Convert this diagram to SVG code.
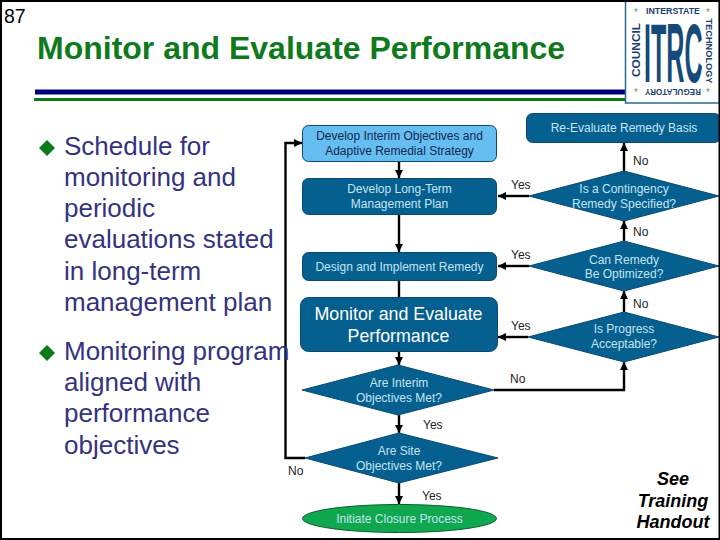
<svg xmlns="http://www.w3.org/2000/svg" width="720" height="540" viewBox="0 0 720 540">
<style>
text{font-family:"Liberation Sans",Arial,sans-serif}
.b{font-size:26px;fill:#333380}
.box{fill:#05608f;stroke:#0a4a70;stroke-width:1}
.lt{font-size:12px;fill:#c4e4f4;text-anchor:middle}
.dk{font-size:12px;fill:#0f2a50;text-anchor:middle}
.l{font-size:12px;fill:#222}
.c{stroke:#000;stroke-width:2.4;fill:none}
.d{fill:#0a7a1a}
.logo{font-weight:bold;fill:#1c3f6f;font-size:9px;text-anchor:middle}
.s{fill:#5aa060;font-size:10px;text-anchor:middle}
</style>
<defs>
<marker id="a" markerUnits="userSpaceOnUse" markerWidth="10" markerHeight="10" refX="9" refY="5" orient="auto"><path d="M1 1 9 5 1 9z" fill="#000"/></marker>
</defs>
<rect width="720" height="540" fill="#fff"/>
<text x="4" y="23" font-size="19.5" fill="#000">87</text>
<text x="37" y="59" font-size="32" font-weight="bold" fill="#0f7a1c">Monitor and Evaluate Performance</text>
<path d="M35 89.500H627V94.500H35z" fill="#00007f"/>
<rect x="34" y="98" width="593" height="3" fill="#0f7a1c"/>
<g id="connectors">
<path class="c" marker-end="url(#a)" d="M305 458H285.500V143H302"/>
<path class="c" marker-end="url(#a)" d="M399 162V178"/>
<path class="c" marker-end="url(#a)" d="M399 215V252"/>
<path class="c" d="M399 281V297"/>
<path class="c" marker-end="url(#a)" d="M399 352V365"/>
<path class="c" marker-end="url(#a)" d="M399 415V433"/>
<path class="c" marker-end="url(#a)" d="M399 483V504"/>
<path class="c" marker-end="url(#a)" d="M529 196H498"/>
<path class="c" marker-end="url(#a)" d="M529 266H498"/>
<path class="c" marker-end="url(#a)" d="M528 337H498"/>
<path class="c" marker-end="url(#a)" d="M494 390H624V362"/>
<path class="c" marker-end="url(#a)" d="M624 312V291"/>
<path class="c" marker-end="url(#a)" d="M624 241V221"/>
<path class="c" marker-end="url(#a)" d="M624 171V143"/>
</g>
<g id="bullets">
<path class="d" d="M47 140 55 148 47 156 39 148z"/>
<path class="d" d="M47 345 55 353 47 361 39 353z"/>
<text class="b" x="64" y="155">Schedule for</text>
<text class="b" x="64" y="186">monitoring and</text>
<text class="b" x="64" y="217">periodic</text>
<text class="b" x="64" y="248">evaluations stated</text>
<text class="b" x="64" y="280">in long-term</text>
<text class="b" x="64" y="311">management plan</text>
<text class="b" x="64" y="360">Monitoring program</text>
<text class="b" x="64" y="391">aligned with</text>
<text class="b" x="64" y="422">performance</text>
<text class="b" x="64" y="454">objectives</text>
</g>
<g id="n1"><rect x="302.500" y="125.500" width="194" height="36" rx="6" fill="#66bdf0" stroke="#0a4a70"/><text class="dk" x="399.500" y="140">Develop Interim Objectives and</text><text class="dk" x="399.500" y="154.500">Adaptive Remedial Strategy</text></g>
<g id="n2"><rect class="box" x="302.500" y="178.500" width="194" height="36" rx="6"/><text class="lt" x="399.500" y="193">Develop Long-Term</text><text class="lt" x="399.500" y="207.500">Management Plan</text></g>
<g id="n3"><rect class="box" x="302.500" y="252.500" width="194" height="28" rx="6"/><text class="lt" x="399.500" y="270.500">Design and Implement Remedy</text></g>
<g id="n4"><rect class="box" x="300.500" y="297.500" width="197" height="54" rx="8"/><text x="398.500" y="320" font-size="17.800" fill="#fff" text-anchor="middle">Monitor and Evaluate</text><text x="398.500" y="342" font-size="17.800" fill="#fff" text-anchor="middle">Performance</text></g>
<g id="n5"><path class="box" d="M302 390 398 365 494 390 398 415z"/><text class="lt" x="399" y="387">Are Interim</text><text class="lt" x="399" y="402">Objectives Met?</text></g>
<g id="n6"><path class="box" d="M305 458 399 433 498 458 399 483z"/><text class="lt" x="399" y="455">Are Site</text><text class="lt" x="399" y="469.500">Objectives Met?</text></g>
<g id="n7"><ellipse cx="399.500" cy="518.500" rx="97" ry="14" fill="#0fa84f" stroke="#086030"/><text class="lt" x="399.500" y="522.500">Initiate Closure Process</text></g>
<g id="n8"><rect class="box" x="526.500" y="113.500" width="194" height="29" rx="6"/><text class="lt" x="624" y="132">Re-Evaluate Remedy Basis</text></g>
<g id="n9"><path class="box" d="M529 196 624 171 719 196 624 221z"/><text class="lt" x="624" y="193">Is a Contingency</text><text class="lt" x="624" y="207.500">Remedy Specified?</text></g>
<g id="n10"><path class="box" d="M529 266 624 241 719 266 624 291z"/><text class="lt" x="624" y="264">Can Remedy</text><text class="lt" x="624" y="278">Be Optimized?</text></g>
<g id="n11"><path class="box" d="M528 337 624 312 719 337 624 362z"/><text class="lt" x="624" y="333">Is Progress</text><text class="lt" x="624" y="347.500">Acceptable?</text></g>
<g id="labels">
<text class="l" x="511" y="189">Yes</text><text class="l" x="511" y="258.500">Yes</text><text class="l" x="511" y="330">Yes</text>
<text class="l" x="633" y="164.500">No</text><text class="l" x="633" y="236">No</text><text class="l" x="633" y="308">No</text>
<text class="l" x="510" y="383">No</text><text class="l" x="423" y="429">Yes</text><text class="l" x="288" y="475">No</text><text class="l" x="422" y="500">Yes</text>
</g>
<g id="see" font-size="18" font-weight="bold" font-style="italic" fill="#000" text-anchor="middle">
<text x="673" y="485">See</text><text x="673" y="507">Training</text><text x="673" y="528">Handout</text>
</g>
<g id="logo">
<rect x="625.500" y="1" width="94" height="102" fill="#fff" stroke="#2a6a8f" stroke-width="1.500"/>
<text class="logo" x="673" y="13.500" textLength="54" lengthAdjust="spacingAndGlyphs">INTERSTATE</text>
<text class="logo" transform="translate(673 89) rotate(180)" textLength="56" lengthAdjust="spacingAndGlyphs">REGULATORY</text>
<text class="logo" transform="translate(640 50) rotate(-90)" textLength="54" lengthAdjust="spacingAndGlyphs" style="font-size:10px">COUNCIL</text>
<text class="logo" transform="translate(706 51) rotate(90)" textLength="65" lengthAdjust="spacingAndGlyphs">TECHNOLOGY</text>
<text class="s" x="636" y="16">*</text><text class="s" x="708" y="16">*</text><text class="s" x="636" y="96">*</text><text class="s" x="708" y="96">*</text>
<text transform="translate(644 82) scale(.335 1.12)" font-size="75" font-weight="bold" fill="#164a78">ITRC</text>
</g>
<rect x="1" y="1" width="718.500" height="538" fill="none" stroke="#000" stroke-width="2"/>
</svg>
